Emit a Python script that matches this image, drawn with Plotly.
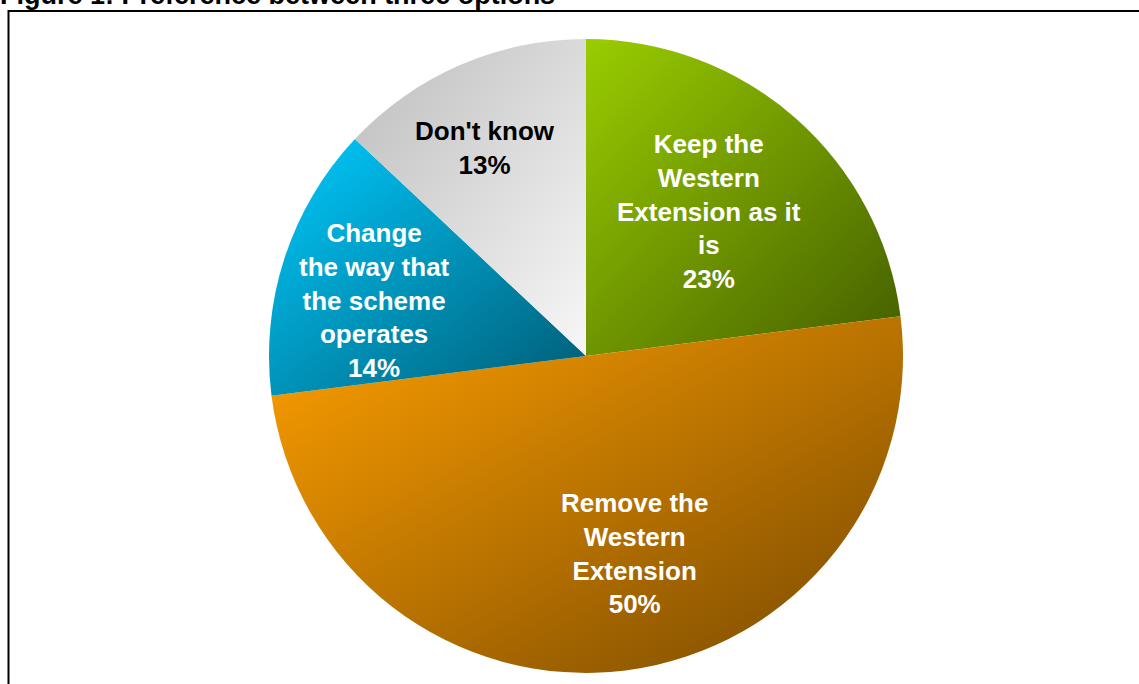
import math
import plotly.graph_objects as go

# Survey answers (share of respondents, %)
categories = [
    "Keep the Western Extension as it is",
    "Remove the Western Extension",
    "Change the way that the scheme operates",
    "Don't know",
]
label_lines = [
    ["Keep the", "Western", "Extension as it", "is"],
    ["Remove the", "Western", "Extension"],
    ["Change", "the way that", "the scheme", "operates"],
    ["Don't know"],
]
shares = [23, 50, 14, 13]

title_text = "Figure 1: Preference between three options"

# Styling
W, H = 1139, 684
PIE_CX, PIE_CY, PIE_R = 586, 356, 317          # pixels, top-left origin
gradient_stops = [                              # (upper-left, lower-right)
    ("#9acd00", "#435d00"),
    ("#ffa000", "#774800"),
    ("#00ccff", "#005a74"),
    ("#bdbdbd", "#f7f7f7"),
]
flat_colors = ["#739a00", "#c27800", "#0096bf", "#dadada"]
label_colors = ["white", "white", "white", "black"]
label_radius = [0.60, 0.64, 0.69, 0.73]
label_nudge_deg = [-1.0, -6.5, -3.3, -2.6]
FONT = "Arial, 'Liberation Sans', sans-serif"

fig = go.Figure(
    go.Pie(
        labels=categories,
        values=shares,
        sort=False,
        direction="clockwise",
        rotation=0,
        textinfo="none",
        hoverinfo="label+percent",
        marker=dict(colors=flat_colors, line=dict(width=0)),
        domain=dict(
            x=[(PIE_CX - PIE_R) / W, (PIE_CX + PIE_R) / W],
            y=[(H - PIE_CY - PIE_R) / H, (H - PIE_CY + PIE_R) / H],
        ),
        showlegend=False,
    )
)

# Slice labels placed along each slice's mid angle
total = sum(shares)
start = 0.0
annotations = []
for i, v in enumerate(shares):
    mid = (start + v / 2) / total * 360 + label_nudge_deg[i]
    start += v
    r = label_radius[i] * PIE_R
    px = PIE_CX + r * math.sin(math.radians(mid))
    py = PIE_CY - r * math.cos(math.radians(mid))
    text = "<br>".join(f"<b>{s}</b>" for s in label_lines[i] + [f"{round(v / total * 100)}%"])
    annotations.append(dict(
        x=px / W, y=1 - py / H, xref="paper", yref="paper",
        text=text, showarrow=False, align="center",
        xanchor="center", yanchor="middle",
        font=dict(family=FONT, size=26, color=label_colors[i]),
    ))

annotations.append(dict(
    x=0, y=1 - 12 / H, xref="paper", yref="paper",
    text=f"<b>{title_text}</b>", showarrow=False,
    xanchor="left", yanchor="bottom", xshift=-2,
    font=dict(family=FONT, size=27, color="black"),
))

# Frame around the chart area
fig.add_shape(
    type="rect", xref="paper", yref="paper",
    x0=8.5 / W, x1=1.02, y0=-0.05, y1=1 - 11 / H,
    line=dict(color="black", width=2), fillcolor="rgba(0,0,0,0)",
)

fig.update_layout(
    width=W, height=H,
    margin=dict(l=0, r=0, t=0, b=0),
    paper_bgcolor="white",
    annotations=annotations,
    font=dict(family=FONT),
)

# Diagonal gradient fill on each slice
stops_js = ",".join(f"['{a}','{b}']" for a, b in gradient_stops)
post_script = """
var gd = document.getElementById('{plot_id}');
var svg = gd.querySelector('svg.main-svg');
var NS = 'http://www.w3.org/2000/svg';
var defs = svg.querySelector('defs') || svg.insertBefore(document.createElementNS(NS, 'defs'), svg.firstChild);
var stops = [%s];
gd.querySelectorAll('g.slice path.surface').forEach(function(p, i) {
  var g = document.createElementNS(NS, 'linearGradient');
  g.setAttribute('id', 'slicegrad' + i);
  g.setAttribute('x1', '0'); g.setAttribute('y1', '0');
  g.setAttribute('x2', '1'); g.setAttribute('y2', '1');
  [0, 1].forEach(function(k) {
    var s = document.createElementNS(NS, 'stop');
    s.setAttribute('offset', k);
    s.setAttribute('stop-color', stops[i][k]);
    g.appendChild(s);
  });
  defs.appendChild(g);
  p.style.fill = 'url(#slicegrad' + i + ')';
});
""" % stops_js

fig.write_html("out.html", post_script=post_script)
